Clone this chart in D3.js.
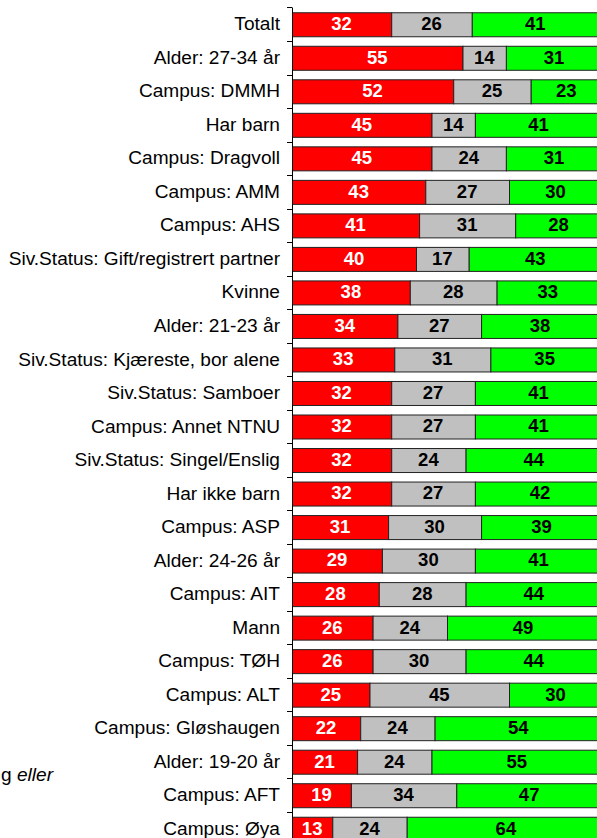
<!DOCTYPE html>
<html>
<head>
<meta charset="utf-8">
<script src="https://cdn.jsdelivr.net/npm/d3@7"></script>
<style>
  html, body { margin: 0; padding: 0; background: #fff; overflow: hidden; }
  svg { display: block; font-family: "Liberation Sans", Arial, sans-serif; }
</style>
</head>
<body>
<svg id="chart" width="597" height="838"></svg>
<script>
// categories, top to bottom
var categories = [
  'Totalt', 'Alder: 27-34 år', 'Campus: DMMH', 'Har barn', 'Campus: Dragvoll',
  'Campus: AMM', 'Campus: AHS', 'Siv.Status: Gift/registrert partner', 'Kvinne',
  'Alder: 21-23 år', 'Siv.Status: Kjæreste, bor alene', 'Siv.Status: Samboer',
  'Campus: Annet NTNU', 'Siv.Status: Singel/Enslig', 'Har ikke barn', 'Campus: ASP',
  'Alder: 24-26 år', 'Campus: AIT', 'Mann', 'Campus: TØH', 'Campus: ALT',
  'Campus: Gløshaugen', 'Alder: 19-20 år', 'Campus: AFT', 'Campus: Øya'
];

// series values (percent)
var redValues   = [32, 55, 52, 45, 45, 43, 41, 40, 38, 34, 33, 32, 32, 32, 32, 31, 29, 28, 26, 26, 25, 22, 21, 19, 13];
var greyValues  = [26, 14, 25, 14, 24, 27, 31, 17, 28, 27, 31, 27, 27, 24, 27, 30, 30, 28, 24, 30, 45, 24, 24, 34, 24];
var greenValues = [41, 31, 23, 41, 31, 30, 28, 43, 33, 38, 35, 41, 41, 44, 42, 39, 41, 44, 49, 44, 30, 54, 55, 47, 64];

var seriesKeys = ['red', 'grey', 'green'];
var fills = { red: '#ff0000', grey: '#c0c0c0', green: '#00ff00' };
var textFills = { red: '#ffffff', grey: '#000000', green: '#000000' };

var rows = categories.map(function (c, i) {
  return { name: c, red: redValues[i], grey: greyValues[i], green: greenValues[i] };
});

var svg = d3.select('#chart');
var axisX = 292;

var x = d3.scaleLinear().domain([0, 100]).range([axisX, 602]);
var y = d3.scaleBand()
  .domain(categories)
  .range([7.5, 845.5])
  .paddingInner(0.284)
  .paddingOuter(0.142);

var gap = y.step() * y.paddingInner();

// stacked segments
var stack = d3.stack().keys(seriesKeys)(rows);

var layers = svg.selectAll('.layer').data(stack).enter().append('g')
  .attr('class', 'layer');

layers.selectAll('rect').data(function (d) { return d; }).enter().append('rect')
  .attr('x', function (d) { return x(d[0]) + 0.5; })
  .attr('y', function (d) { return y(d.data.name) + 0.5; })
  .attr('width', function (d) { return x(d[1]) - x(d[0]); })
  .attr('height', y.bandwidth())
  .attr('fill', function () { return fills[d3.select(this.parentNode).datum().key]; })
  .attr('stroke', '#222')
  .attr('stroke-width', 1);

layers.each(function (layer) {
  d3.select(this).selectAll('text').data(layer).enter().append('text')
    .attr('x', function (d) { return (x(d[0]) + x(d[1])) / 2; })
    .attr('y', function (d) { return y(d.data.name) + y.bandwidth() / 2 + 1; })
    .attr('text-anchor', 'middle')
    .attr('dominant-baseline', 'middle')
    .attr('font-size', '18.5px')
    .attr('font-weight', 'bold')
    .attr('fill', textFills[layer.key])
    .text(function (d) { return d.data[layer.key]; });
});

// category labels
svg.selectAll('.cat').data(categories).enter().append('text')
  .attr('class', 'cat')
  .attr('x', 280)
  .attr('y', function (d) { return y(d) + y.bandwidth() / 2 + 1; })
  .attr('text-anchor', 'end')
  .attr('dominant-baseline', 'middle')
  .attr('font-size', '19.1px')
  .attr('fill', '#000')
  .text(function (d) { return d; });

// axis line and ticks at band boundaries
var axis = svg.append('g').attr('class', 'axis');
axis.append('line')
  .attr('x1', axisX + 0.5).attr('x2', axisX + 0.5)
  .attr('y1', y.range()[0]).attr('y2', 838)
  .attr('stroke', '#000');

axis.selectAll('.tick').data(categories).enter().append('line')
  .attr('class', 'tick')
  .attr('x1', axisX - 5).attr('x2', axisX)
  .attr('y1', function (d) { return Math.round(y(d) - gap / 2) + 0.5; })
  .attr('y2', function (d) { return Math.round(y(d) - gap / 2) + 0.5; })
  .attr('stroke', '#000');

// leftover note text cut at the left edge
var note = svg.append('text')
  .attr('x', 1)
  .attr('y', 781)
  .attr('font-size', '19.1px')
  .attr('fill', '#000');
note.append('tspan').text('g ');
note.append('tspan').attr('font-style', 'italic').text('eller');
</script>
</body>
</html>
